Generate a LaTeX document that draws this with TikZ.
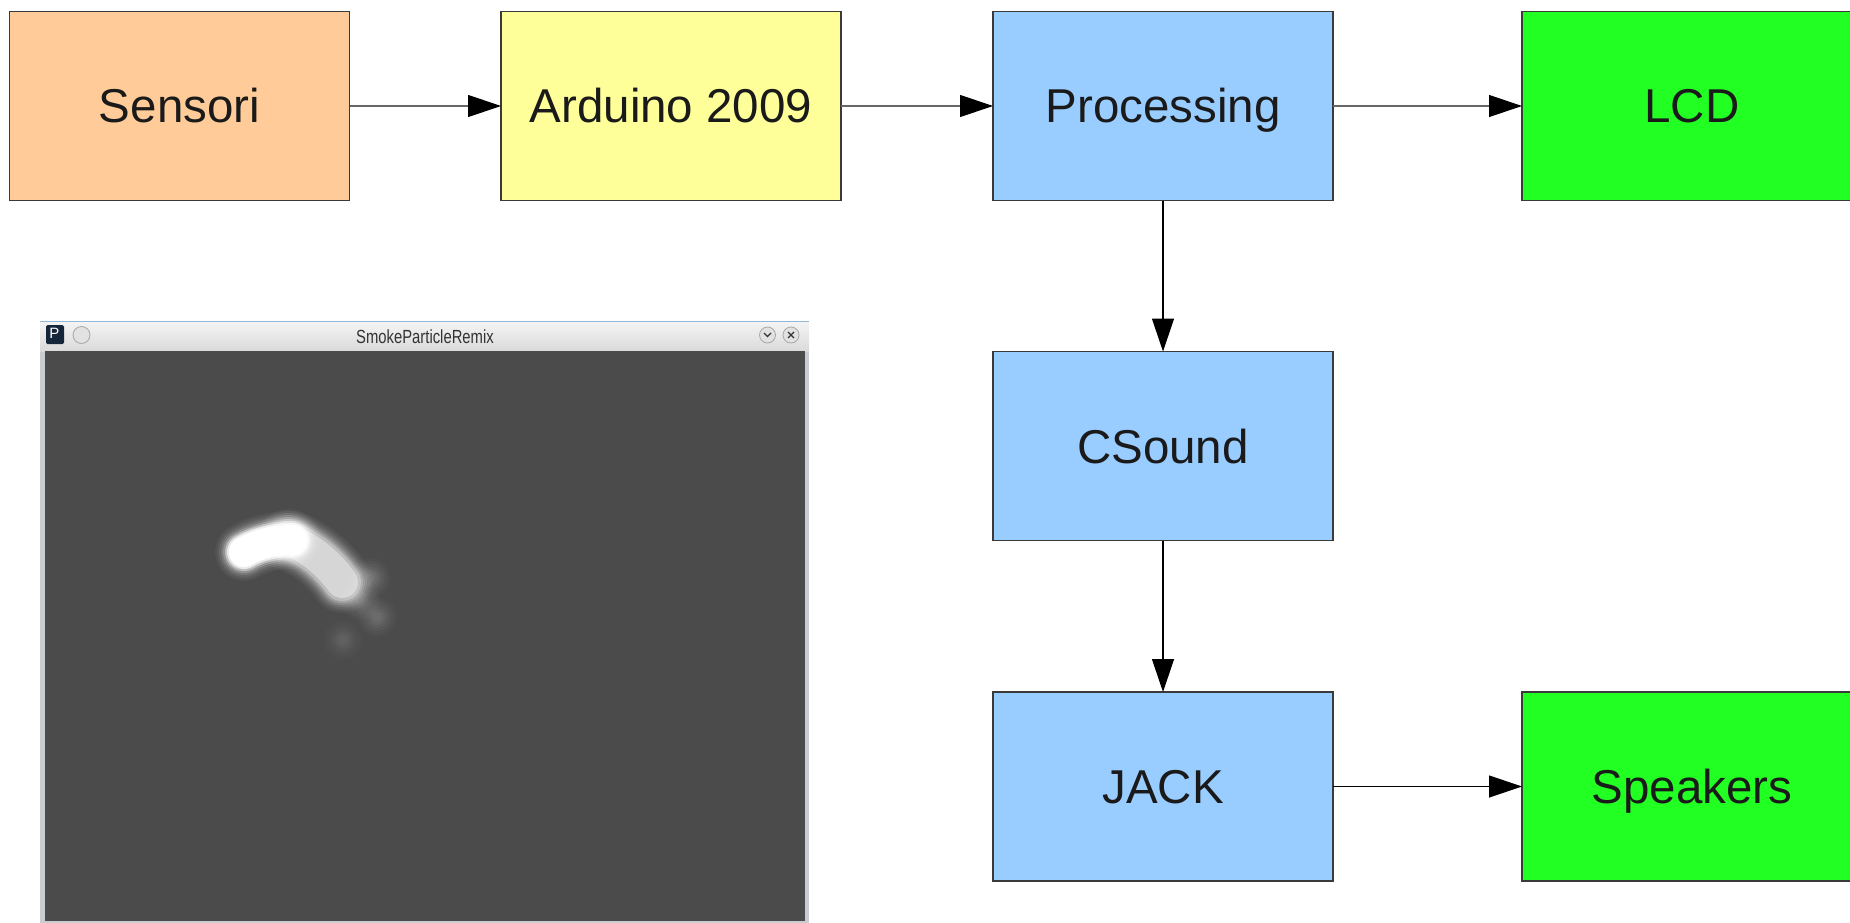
\documentclass[tikz,border=0pt]{standalone}
\usepackage{fontspec}
\setmainfont{Liberation Sans}
\usetikzlibrary{arrows.meta}
\definecolor{cOrange}{HTML}{FFCC99}
\definecolor{cYellow}{HTML}{FFFF99}
\definecolor{cBlue}{HTML}{99CCFF}
\definecolor{cGreen}{HTML}{22FF22}
\definecolor{boxline}{HTML}{3A3A3A}
\definecolor{txt}{HTML}{1A1A1A}
\definecolor{grayline}{HTML}{666666}
\definecolor{winframe}{HTML}{C9CDD2}
\definecolor{titletop}{HTML}{F4F4F4}
\definecolor{titlebot}{HTML}{DADADA}
\definecolor{winblue}{HTML}{8FB8DA}
\definecolor{smokebg}{HTML}{4B4B4B}
\definecolor{iconbg}{HTML}{15253A}
\definecolor{btnline}{HTML}{A8A8A8}
\definecolor{btnfill}{HTML}{E2E2E2}
\definecolor{titletxt}{HTML}{333333}
\begin{document}
\begin{tikzpicture}[x=1pt,y=-1pt,
  box/.style={draw=boxline,line width=1.2pt,minimum width=340pt,minimum height=189pt,
    inner sep=0pt,outer sep=0pt,font=\fontsize{47.5}{57}\selectfont,text=txt,
    text height=40pt,text depth=6pt},
  link/.style={line width=1.2pt,-{Triangle[length=33pt,width=22pt,color=black]}},
  btn/.style={draw=btnline,fill=btnfill,line width=0.8pt},
  puff/.style={white,line cap=round,line join=round}]
\useasboundingbox (0,0) rectangle (1850,923);
\clip (0,0) rectangle (1850,923);
\fill[white] (0,0) rectangle (1850,923);

% boxes
\node[box,fill=cOrange] (sens) at (179.5,106) {Sensori};
\node[box,fill=cYellow] (ard) at (671,106) {Arduino 2009};
\node[box,fill=cBlue] (proc) at (1163,106) {Processing};
\node[box,fill=cGreen] (lcd) at (1692,106) {LCD};
\node[box,fill=cBlue] (csound) at (1163,446) {CSound};
\node[box,fill=cBlue] (jack) at (1163,786.5) {JACK};
\node[box,fill=cGreen] (spk) at (1692,786.5) {Speakers};

% connectors
\draw[link,grayline] (sens) -- (ard);
\draw[link,grayline] (ard) -- (proc);
\draw[link,grayline] (proc) -- (lcd);
\draw[link,black] (proc) -- (csound);
\draw[link,black] (csound) -- (jack);
\draw[link,black] (jack) -- (spk);

% window screenshot
\fill[winframe] (40,321) rectangle (809,930);
\shade[top color=titletop,bottom color=titlebot] (40,322) rectangle (809,351);
\draw[winblue,line width=1pt] (40,321.5) -- (809,321.5);
\fill[smokebg] (45,351) rectangle (805,921);
\fill[iconbg,rounded corners=1.5pt] (46,325) rectangle (64,344);
\node[text=white,font=\fontsize{15}{15}\selectfont,inner sep=0pt] (picon) at (54.5,333.5) {P};
\draw[btn] (81.5,335) circle (8.5);
\draw[btn] (767.5,335) circle (8);
\draw[btn] (791,335) circle (8);
\draw[titletxt,line width=1.1pt] (764,333) -- (767.5,336.5) -- (771,333);
\draw[titletxt,line width=1.1pt] (788,332) -- (794,338) (794,332) -- (788,338);
\node[text=titletxt,font=\fontsize{19}{19}\selectfont,xscale=0.78,inner sep=0pt] (wtitle) at (425,337) {SmokeParticleRemix};

% smoke: faint tail puffs
\foreach \r/\o in {20/0.025,17/0.03,14/0.04,11/0.05,8/0.06,5/0.06}{
  \fill[white,opacity=\o] (360,600) circle (\r);
  \fill[white,opacity=\o] (370,578) circle (\r);
  \fill[white,opacity=0.8*\o] (377,617) circle (\r);
  \fill[white,opacity=0.5*\o] (343,640) circle (\r);
}
% smoke: body (grey-white)
\foreach \w/\o in {62/0.04,58/0.05,54/0.07,50/0.1,46/0.14,42/0.2,38/0.3,32/0.4}{
  \draw[puff,line width=\w pt,opacity=\o] (288,540) .. controls (306,546) and (326,560) .. (342,582);
}
% smoke: head (bright white)
\foreach \w/\o in {58/0.04,54/0.05,50/0.08,46/0.12,42/0.2,38/0.4,34/0.7,30/1}{
  \draw[puff,line width=\w pt,opacity=\o] (244,552) .. controls (256,545) and (272,540) .. (292,540);
}
\end{tikzpicture}
\end{document}
